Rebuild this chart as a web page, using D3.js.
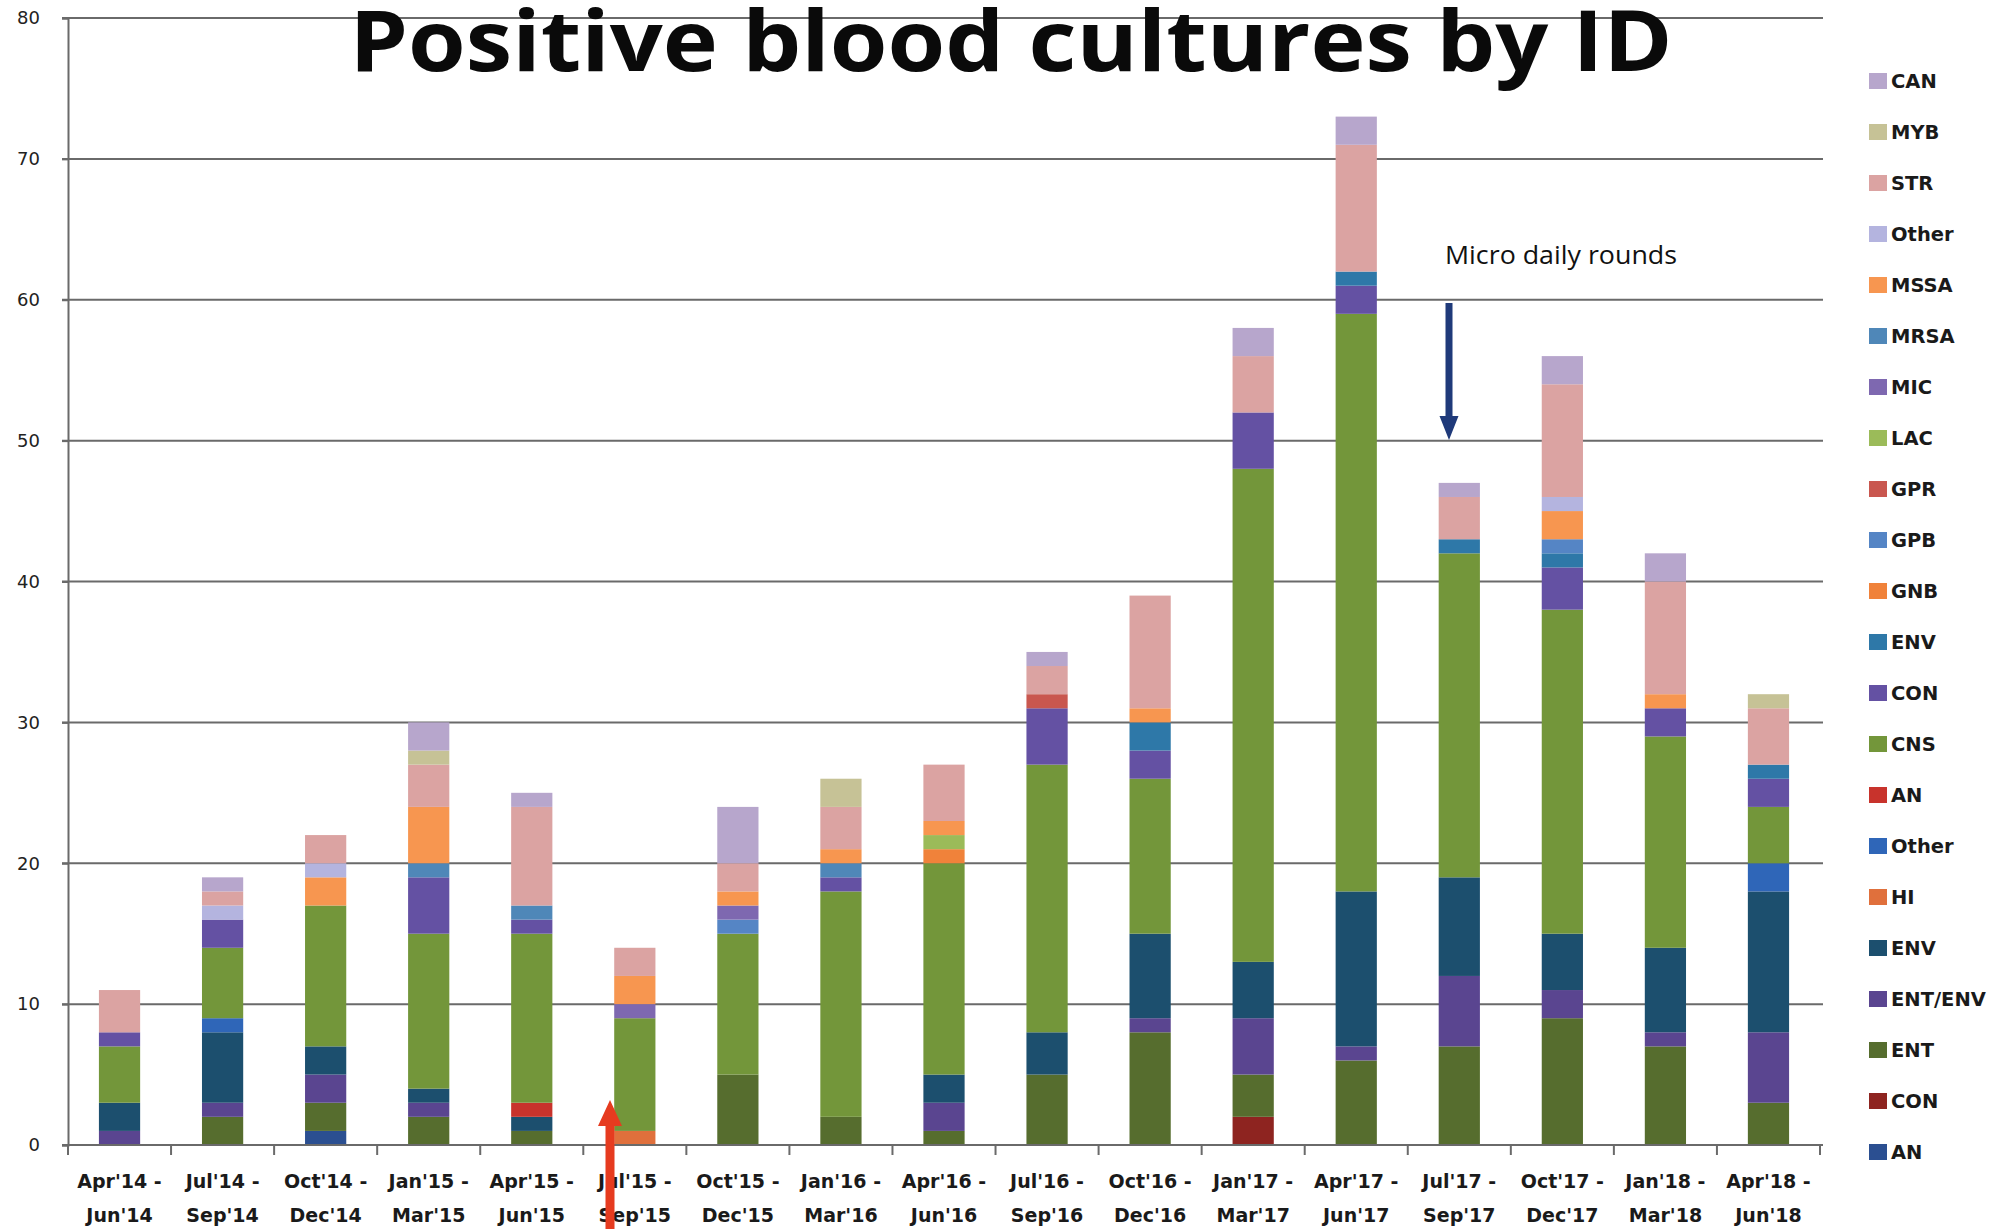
<!DOCTYPE html>
<html>
<head>
<meta charset="utf-8">
<script src="https://cdn.jsdelivr.net/npm/d3@7"></script>
<style>
  html, body { margin: 0; padding: 0; background: #ffffff; }
  svg { display: block; }
</style>
</head>
<body>
<svg id="chart" width="2010" height="1229"></svg>
<script>
// ---------- DATA ----------
const categoriesTop = ["Apr'14 -","Jul'14 -","Oct'14 -","Jan'15 -","Apr'15 -","Jul'15 -","Oct'15 -","Jan'16 -","Apr'16 -","Jul'16 -","Oct'16 -","Jan'17 -","Apr'17 -","Jul'17 -","Oct'17 -","Jan'18 -","Apr'18 -"];
const categoriesBottom = ["Jun'14","Sep'14","Dec'14","Mar'15","Jun'15","Sep'15","Dec'15","Mar'16","Jun'16","Sep'16","Dec'16","Mar'17","Jun'17","Sep'17","Dec'17","Mar'18","Jun'18"];

// series, bottom of stack first
const sAN_navy   = [0,0,1,0,0,0,0,0,0,0,0,0,0,0,0,0,0];
const sCON_dark  = [0,0,0,0,0,0,0,0,0,0,0,2,0,0,0,0,0];
const sENT       = [0,2,2,2,1,0,5,2,1,5,8,3,6,7,9,7,3];
const sENT_ENV   = [1,1,2,1,0,0,0,0,2,0,1,4,1,5,2,1,5];
const sENV_dark  = [2,5,2,1,1,0,0,0,2,3,6,4,11,7,4,6,10];
const sHI        = [0,0,0,0,0,1,0,0,0,0,0,0,0,0,0,0,0];
const sOther_blue= [0,1,0,0,0,0,0,0,0,0,0,0,0,0,0,0,2];
const sAN_red    = [0,0,0,0,1,0,0,0,0,0,0,0,0,0,0,0,0];
const sCNS       = [4,5,10,11,12,8,10,16,15,19,11,35,41,23,23,15,4];
const sCON       = [1,2,0,4,1,0,0,1,0,4,2,4,2,0,3,2,2];
const sENV       = [0,0,0,0,0,0,0,0,0,0,2,0,1,1,1,0,1];
const sGNB       = [0,0,0,0,0,0,0,0,1,0,0,0,0,0,0,0,0];
const sGPB       = [0,0,0,0,0,0,1,0,0,0,0,0,0,0,1,0,0];
const sGPR       = [0,0,0,0,0,0,0,0,0,1,0,0,0,0,0,0,0];
const sLAC       = [0,0,0,0,0,0,0,0,1,0,0,0,0,0,0,0,0];
const sMIC       = [0,0,0,0,0,1,1,0,0,0,0,0,0,0,0,0,0];
const sMRSA      = [0,0,0,1,1,0,0,1,0,0,0,0,0,0,0,0,0];
const sMSSA      = [0,0,2,4,0,2,1,1,1,0,1,0,0,0,2,1,0];
const sOther_lt  = [0,1,1,0,0,0,0,0,0,0,0,0,0,0,1,0,0];
const sSTR       = [3,1,2,3,7,2,2,3,4,2,8,4,9,3,8,8,4];
const sMYB       = [0,0,0,1,0,0,0,2,0,0,0,0,0,0,0,0,1];
const sCAN       = [0,1,0,2,1,0,4,0,0,1,0,2,2,1,2,2,0];

const seriesNames  = ["AN","CON","ENT","ENT/ENV","ENV","HI","Other","AN","CNS","CON","ENV","GNB","GPB","GPR","LAC","MIC","MRSA","MSSA","Other","STR","MYB","CAN"];
const seriesValues = [sAN_navy,sCON_dark,sENT,sENT_ENV,sENV_dark,sHI,sOther_blue,sAN_red,sCNS,sCON,sENV,sGNB,sGPB,sGPR,sLAC,sMIC,sMRSA,sMSSA,sOther_lt,sSTR,sMYB,sCAN];
const seriesColors = ["#2b4f91","#8e2420","#566d2e","#5a4590","#1c4f6e","#e0703c","#2f66b8","#c8332c","#73963a","#6451a3","#2e78a8","#f0823a","#5585c5","#c9574f","#9bbb59","#7e68b0","#4f87b8","#f79650","#b4b4df","#dba3a2","#c6c296","#b7a6cc"];

const yTicks = [0,10,20,30,40,50,60,70,80];
const titleText = "Positive blood cultures by ID";
const noteText = "Micro daily rounds";

// ---------- LAYOUT ----------
const svg = d3.select("#chart");
const plot = {left: 68, right: 1820, top: 18, bottom: 1145};

const keys = d3.range(seriesNames.length);
const rows = categoriesTop.map((c, i) => {
  const r = {idx: i};
  keys.forEach(k => r[k] = seriesValues[k][i]);
  return r;
});

const x = d3.scaleBand()
  .domain(d3.range(categoriesTop.length))
  .range([plot.left, plot.right])
  .paddingInner(0.6)
  .paddingOuter(0.3);

const y = d3.scaleLinear().domain([0, 80]).range([plot.bottom, plot.top]);

// gridlines
svg.append("g")
  .selectAll("line")
  .data(yTicks)
  .join("line")
  .attr("x1", plot.left - 6)
  .attr("x2", plot.right + 3)
  .attr("y1", d => y(d))
  .attr("y2", d => y(d))
  .attr("stroke", "#6a6a6a")
  .attr("stroke-width", 2);

// y axis
const yAxis = d3.axisLeft(y).tickValues(yTicks).tickSize(6).tickPadding(22);
const gy = svg.append("g").attr("transform", `translate(${plot.left},0)`).call(yAxis);
gy.select(".domain").attr("stroke", "#6a6a6a").attr("stroke-width", 2);
gy.selectAll(".tick line").attr("stroke", "#6a6a6a").attr("stroke-width", 2);
gy.selectAll(".tick text")
  .attr("font-family", "DejaVu Sans, Verdana, sans-serif")
  .attr("font-size", 18)
  .attr("fill", "#222");

// title (behind bars, over top gridline)
svg.append("text")
  .attr("x", 1011)
  .attr("y", 71)
  .attr("text-anchor", "middle")
  .attr("font-family", "Open Sans, Noto Sans, sans-serif")
  .attr("font-weight", 700)
  .attr("font-size", 84)
  .attr("textLength", 1323)
  .attr("lengthAdjust", "spacingAndGlyphs")
  .attr("fill", "#0a0a0a")
  .text(titleText);

// stacked bars
const stack = d3.stack().keys(keys);
const layers = stack(rows);

svg.append("g")
  .selectAll("g")
  .data(layers)
  .join("g")
  .attr("fill", d => seriesColors[d.key])
  .selectAll("rect")
  .data(d => d.filter(s => s[1] > s[0]))
  .join("rect")
  .attr("x", d => x(d.data.idx))
  .attr("width", x.bandwidth())
  .attr("y", d => y(d[1]))
  .attr("height", d => y(d[0]) - y(d[1]));

// x axis
const xAxis = d3.axisBottom(x).tickSize(0).tickFormat(() => "");
const gx = svg.append("g").attr("transform", `translate(0,${plot.bottom})`).call(xAxis);
gx.select(".domain").attr("stroke", "#6a6a6a").attr("stroke-width", 2).attr("d", `M${plot.left},0H${plot.right + 3}`);

// boundary ticks
const boundaries = d3.range(categoriesTop.length + 1).map(i =>
  i < categoriesTop.length ? x(i) - x.step() * x.paddingOuter() : x(i - 1) + x.bandwidth() + x.step() * x.paddingOuter());
gx.append("g").selectAll("line")
  .data(boundaries)
  .join("line")
  .attr("x1", d => d).attr("x2", d => d)
  .attr("y1", 0).attr("y2", 10)
  .attr("stroke", "#6a6a6a").attr("stroke-width", 2);

// x labels
gx.selectAll(".tick text").remove();
gx.selectAll(".tick").each(function(i) {
  const t = d3.select(this).append("text")
    .attr("fill", "#1a1a1a")
    .attr("font-family", "DejaVu Sans, Verdana, sans-serif")
    .attr("font-weight", 700)
    .attr("font-size", 19)
    .attr("text-anchor", "middle");
  t.append("tspan").attr("x", 0).attr("y", 43).text(categoriesTop[i]);
  t.append("tspan").attr("x", 0).attr("y", 77).text(categoriesBottom[i]);
});

// legend (top = last series)
const legendOrder = keys.slice().reverse();
const legend = svg.append("g");
const lg = legend.selectAll("g")
  .data(legendOrder)
  .join("g")
  .attr("transform", (d, i) => `translate(1869,${81 + i * 51})`);
lg.append("rect")
  .attr("x", 0).attr("y", -8)
  .attr("width", 18).attr("height", 16)
  .attr("fill", d => seriesColors[d]);
lg.append("text")
  .attr("x", 22).attr("y", 7)
  .attr("font-family", "DejaVu Sans, Verdana, sans-serif")
  .attr("font-weight", 700)
  .attr("font-size", 19.5)
  .attr("fill", "#1a1a1a")
  .text(d => seriesNames[d]);

// annotation
svg.append("text")
  .attr("x", 1445)
  .attr("y", 264)
  .attr("font-family", "Open Sans, Noto Sans, sans-serif")
  .attr("font-size", 25)
  .attr("textLength", 232)
  .attr("lengthAdjust", "spacingAndGlyphs")
  .attr("fill", "#111")
  .text(noteText);

// arrows
function arrow(cx, yTail, yTip, shaftW, headW, headL, color) {
  const dir = yTip > yTail ? 1 : -1;
  const yHead = yTip - dir * headL;
  const p = d3.path();
  p.moveTo(cx - shaftW / 2, yTail);
  p.lineTo(cx - shaftW / 2, yHead);
  p.lineTo(cx - headW / 2, yHead);
  p.lineTo(cx, yTip);
  p.lineTo(cx + headW / 2, yHead);
  p.lineTo(cx + shaftW / 2, yHead);
  p.lineTo(cx + shaftW / 2, yTail);
  p.closePath();
  svg.append("path").attr("d", p.toString()).attr("fill", color);
}
arrow(1449, 303, 440, 7, 19, 24, "#1f3a7a");
arrow(610, 1229, 1100, 9, 24, 26, "#e63b1f");
</script>
</body>
</html>
